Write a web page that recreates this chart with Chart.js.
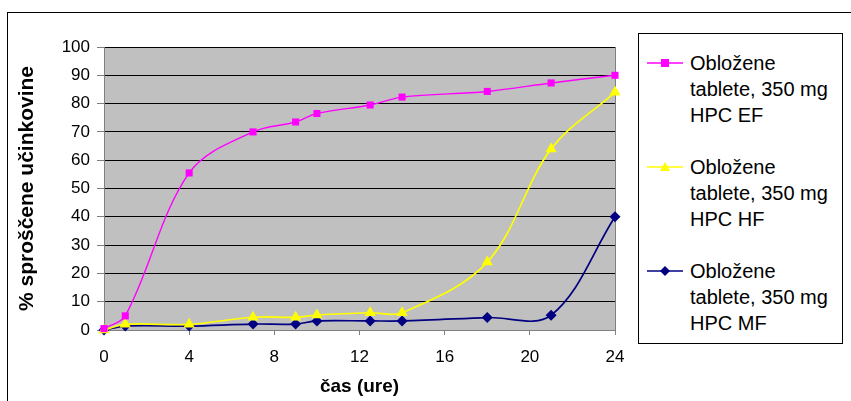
<!DOCTYPE html>
<html>
<head>
<meta charset="utf-8">
<script src="https://cdn.jsdelivr.net/npm/chart.js@4"></script>
<style>
  body { margin: 0; background: #fff; }
  #wrap { position: relative; width: 851px; height: 401px; overflow: hidden; }
  #frame { position: absolute; left: 7px; top: 12px; width: 900px; height: 500px;
           border-left: 1px solid #000; border-top: 1px solid #000; }
  #chart { position: absolute; left: 0; top: 0; }
  #legend { position: absolute; left: 638px; top: 33px; width: 203px; height: 309px;
            border: 1px solid #000; background: #fff;
            font-family: "Liberation Sans", Arial, sans-serif; font-size: 20px; color: #000; }
  .item { position: absolute; left: 0; }
  .item svg { position: absolute; left: 8px; top: 0; }
  .item div { position: absolute; left: 51px; top: 0; line-height: 26px; white-space: nowrap; }
</style>
</head>
<body>
<div id="wrap">
  <div id="frame"></div>
  <canvas id="chart" width="851" height="401"></canvas>
  <div id="legend"></div>
</div>
<script>
// time points (hours)
var hours = [0, 1, 4, 7, 9, 10, 12.5, 14, 18, 21, 24];

// released drug, %
var hpcEF = [0.5, 5, 55.5, 70, 73.5, 76.5, 79.5, 82.3, 84.3, 87.3, 90];
var hpcHF = [0, 2, 2, 4.5, 4.5, 5.3, 6.1, 6.1, 24, 64, 84];
var hpcMF = [0, 1.4, 1.4, 2.1, 2.1, 3.2, 3.2, 3.2, 4.4, 5.2, 40];

var seriesNames = [
    ["Obložene", "tablete, 350 mg", "HPC EF"],
    ["Obložene", "tablete, 350 mg", "HPC HF"],
    ["Obložene", "tablete, 350 mg", "HPC MF"],
];
var seriesColors = ["#FF00FF", "#FFFF00", "#000080"];
var seriesMarkers = ["rect", "triangle", "rectRot"];

function points(values) {
    return hours.map(function (h, i) { return { x: h, y: values[i] }; });
}

// gray plot area + right edge
var plotBackground = {
    id: "plotBackground",
    beforeDraw: function (chart) {
        var a = chart.chartArea, ctx = chart.ctx;
        ctx.save();
        ctx.fillStyle = "#C0C0C0";
        ctx.fillRect(a.left, a.top, a.right - a.left, a.bottom - a.top);
        ctx.strokeStyle = "#808080";
        ctx.lineWidth = 1;
        ctx.beginPath();
        ctx.moveTo(a.right + 0.5, a.top);
        ctx.lineTo(a.right + 0.5, a.bottom);
        ctx.stroke();
        ctx.restore();
    },
};

var font = "'Liberation Sans', Arial, sans-serif";
var allValues = [hpcEF, hpcHF, hpcMF];

var ctx = document.getElementById("chart").getContext("2d");
var chart = new Chart(ctx, {
    type: "line",
    data: {
        datasets: allValues.map(function (vals, i) {
            return {
                label: seriesNames[i].join(" "),
                data: points(vals),
                borderColor: seriesColors[i],
                backgroundColor: seriesColors[i],
                borderWidth: i === 0 ? 1.4 : 1.7,
                pointStyle: seriesMarkers[i],
                pointRadius: [5, 6.5, 5.5][i],
                pointBorderWidth: 0,
                tension: 0.35,
                fill: false,
                clip: false,
            };
        }),
    },
    options: {
        responsive: false,
        animation: false,
        layout: { padding: { left: 0, top: 47, right: 236, bottom: 0 } },
        plugins: {
            legend: { display: false },
            tooltip: { enabled: false },
        },
        scales: {
            x: {
                type: "linear",
                min: 0,
                max: 24,
                afterFit: function (s) { s.height = 71; },
                ticks: { stepSize: 4, padding: 12, color: "#000", font: { family: font, size: 17 } },
                grid: { drawOnChartArea: false, tickLength: 5, tickColor: "#808080" },
                border: { color: "#808080" },
                title: {
                    display: true,
                    text: "čas (ure)",
                    color: "#000",
                    font: { family: font, size: 19, weight: "bold" },
                    padding: { top: 0, bottom: 3 },
                },
            },
            y: {
                min: 0,
                max: 100,
                afterFit: function (s) { s.width = 104; },
                ticks: { stepSize: 10, padding: 7, color: "#000", font: { family: font, size: 17 } },
                grid: { color: "#000", tickLength: 7, tickColor: "#808080" },
                border: { color: "#808080" },
                title: {
                    display: true,
                    text: "% sproščene učinkovine",
                    color: "#000",
                    font: { family: font, size: 21, weight: "bold" },
                    padding: { top: 15, bottom: 0 },
                },
            },
        },
    },
    plugins: [plotBackground],
});

// legend with wrapped labels
var legend = document.getElementById("legend");
var markerSvg = {
    rect: '<rect x="14" y="9" width="8" height="8" />',
    triangle: '<polygon points="18,8 23,17 13,17" />',
    rectRot: '<polygon points="18,8 23,13 18,18 13,13" />',
};
seriesNames.forEach(function (lines, i) {
    var item = document.createElement("div");
    item.className = "item";
    item.style.top = (16 + i * 104) + "px";
    item.innerHTML =
        '<svg width="40" height="26"><line x1="0" y1="13" x2="36" y2="13" stroke="' +
        seriesColors[i] + '" stroke-width="1.5"/><g fill="' + seriesColors[i] + '">' +
        markerSvg[seriesMarkers[i]] + "</g></svg><div>" + lines.join("<br>") + "</div>";
    legend.appendChild(item);
});
</script>
</body>
</html>
